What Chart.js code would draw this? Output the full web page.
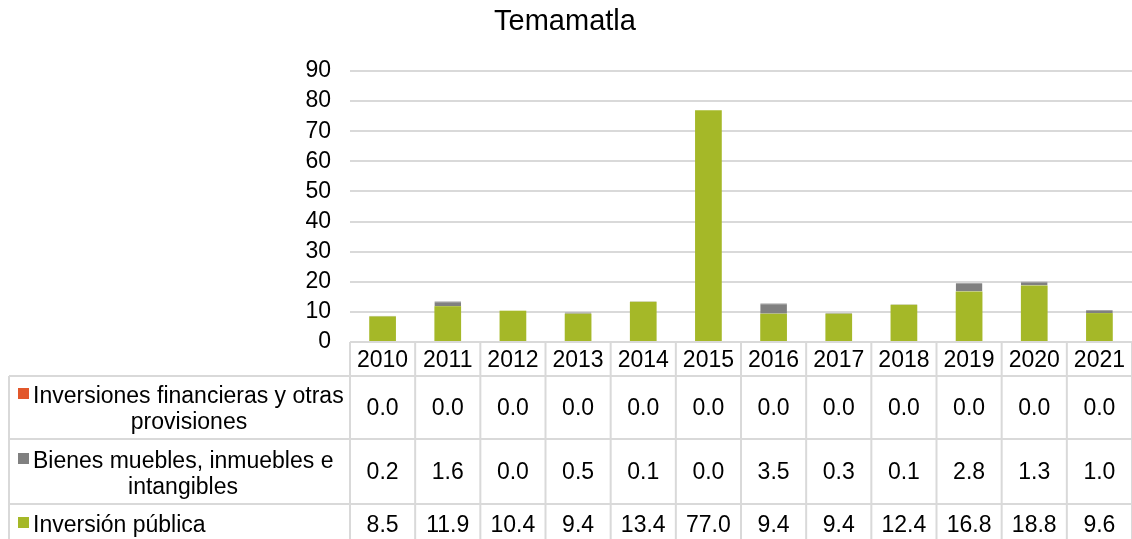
<!DOCTYPE html>
<html>
<head>
<meta charset="utf-8">
<script src="https://cdn.jsdelivr.net/npm/chart.js@4.4.0/dist/chart.umd.min.js"></script>
<style>
  html, body { margin: 0; padding: 0; background: #fff; }
  #wrap { width: 1132px; height: 539px; }
</style>
</head>
<body>
<div id="wrap"><canvas id="barChart" width="1132" height="539"></canvas></div>
<script>
const years = ['2010', '2011', '2012', '2013', '2014', '2015', '2016', '2017', '2018', '2019', '2020', '2021'];
const inversionesFinancieras = [0.0, 0.0, 0.0, 0.0, 0.0, 0.0, 0.0, 0.0, 0.0, 0.0, 0.0, 0.0];
const bienesMuebles = [0.2, 1.6, 0.0, 0.5, 0.1, 0.0, 3.5, 0.3, 0.1, 2.8, 1.3, 1.0];
const inversionPublica = [8.5, 11.9, 10.4, 9.4, 13.4, 77.0, 9.4, 9.4, 12.4, 16.8, 18.8, 9.6];
const yTicks = [0, 10, 20, 30, 40, 50, 60, 70, 80, 90];

const FONT = '"Liberation Sans", Arial, sans-serif';
const GRID = '#d9d9d9';

// table rows, top to bottom (legend markers + values)
const tableRows = [
    { lines: ['Inversiones financieras y otras', 'provisiones'], color: '#e2572b', values: inversionesFinancieras },
    { lines: ['Bienes muebles, inmuebles e', 'intangibles'], color: '#808080', values: bienesMuebles },
    { lines: ['Inversión pública'], color: '#a5b828', values: inversionPublica }
];

// draws title and the data table under the plot
const tablePlugin = {
    id: 'dataTable',
    afterDraw(chart) {
        const ctx = chart.ctx;
        const x = chart.scales.x;
        const area = chart.chartArea;
        const colW = x.getPixelForValue(1) - x.getPixelForValue(0);
        const left = x.getPixelForValue(0) - colW / 2;
        const right = left + colW * years.length;
        const rowTops = [area.bottom, 376, 439, 504, 560];
        const labelLeft = 9;

        ctx.save();

        // title
        ctx.fillStyle = '#000';
        ctx.font = '29px ' + FONT;
        ctx.textAlign = 'center';
        ctx.textBaseline = 'alphabetic';
        ctx.fillText('Temamatla', 565, 30);

        // grid lines of the table
        ctx.strokeStyle = GRID;
        ctx.lineWidth = 2;
        ctx.beginPath();
        ctx.moveTo(left, rowTops[0]);
        ctx.lineTo(right, rowTops[0]);
        for (let r = 1; r < 4; r++) {
            ctx.moveTo(labelLeft, rowTops[r]);
            ctx.lineTo(right, rowTops[r]);
        }
        for (let c = 0; c <= years.length; c++) {
            const cx = left + c * colW;
            ctx.moveTo(cx, rowTops[0]);
            ctx.lineTo(cx, 539);
        }
        ctx.moveTo(labelLeft, rowTops[1]);
        ctx.lineTo(labelLeft, 539);
        ctx.stroke();

        // year headers
        ctx.fillStyle = '#000';
        ctx.font = '23px ' + FONT;
        ctx.textAlign = 'center';
        years.forEach((y, i) => {
            ctx.fillText(y, x.getPixelForValue(i), 367);
        });

        // rows
        const valueBase = [415, 479, 532];
        const lineBase = [[403, 429], [468, 494], [532]];
        const secondCenter = [189, 183];
        tableRows.forEach((row, r) => {
            ctx.fillStyle = row.color;
            ctx.fillRect(18, lineBase[r][0] - 15, 11, 11);
            ctx.fillStyle = '#000';
            ctx.textAlign = 'left';
            ctx.fillText(row.lines[0], 33, lineBase[r][0]);
            if (row.lines[1]) {
                ctx.textAlign = 'center';
                ctx.fillText(row.lines[1], secondCenter[r], lineBase[r][1]);
            }
            ctx.textAlign = 'center';
            row.values.forEach((v, i) => {
                ctx.fillText(v.toFixed(1), x.getPixelForValue(i), valueBase[r]);
            });
        });

        ctx.restore();
    }
};

const ctx = document.getElementById('barChart').getContext('2d');

new Chart(ctx, {
    type: 'bar',
    data: {
        labels: years,
        datasets: [
            {
                label: 'Inversión pública',
                data: inversionPublica,
                backgroundColor: '#a5b828',
                barPercentage: 0.41,
                categoryPercentage: 1.0
            },
            {
                label: 'Bienes muebles, inmuebles e intangibles',
                data: bienesMuebles,
                backgroundColor: '#808080',
                borderColor: '#a6a6a6',
                borderWidth: { top: 1 },
                borderSkipped: false,
                barPercentage: 0.41,
                categoryPercentage: 1.0
            },
            {
                label: 'Inversiones financieras y otras provisiones',
                data: inversionesFinancieras,
                backgroundColor: '#e2572b',
                barPercentage: 0.41,
                categoryPercentage: 1.0
            }
        ]
    },
    options: {
        responsive: false,
        animation: false,
        layout: {
            padding: { top: 71, bottom: 197, left: 0, right: -2 }
        },
        plugins: {
            legend: { display: false },
            title: { display: false },
            tooltip: { enabled: false }
        },
        scales: {
            x: {
                stacked: true,
                display: false
            },
            y: {
                stacked: true,
                min: 0,
                max: 90,
                afterBuildTicks: (scale) => {
                    scale.ticks = yTicks.map(v => ({ value: v }));
                },
                afterFit: (scale) => {
                    scale.width = 350;
                },
                border: { display: false },
                grid: {
                    color: GRID,
                    lineWidth: 2,
                    drawTicks: false
                },
                ticks: {
                    color: '#000',
                    padding: 19,
                    autoSkip: false,
                    font: { family: FONT, size: 23 }
                }
            }
        }
    },
    plugins: [tablePlugin]
});
</script>
</body>
</html>
